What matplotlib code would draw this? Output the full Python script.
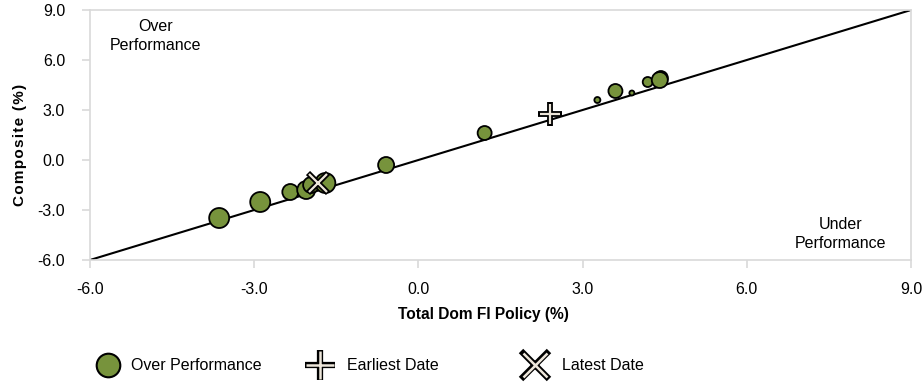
import matplotlib
matplotlib.use("Agg")
import matplotlib.pyplot as plt
from matplotlib.lines import Line2D
from matplotlib.legend_handler import HandlerTuple

plt.rcParams['font.family'] = ['Liberation Sans', 'DejaVu Sans']

# Data
x_vals = [-3.64, -2.89, -2.34, -2.05, -1.96, -1.70, -0.59, 1.21, 3.27, 3.60, 3.90, 4.19, 4.43, 4.41]
y_vals = [-3.48, -2.52, -1.92, -1.80, -1.50, -1.38, -0.30, 1.62, 3.60, 4.14, 4.02, 4.68, 4.92, 4.80]
sizes_px = [10, 10, 8, 9, 8, 10, 8, 7, 3, 7, 2.5, 5, 7, 8]   # marker radius
earliest = (2.40, 2.76)
latest = (-1.83, -1.38)
ticks = [-6.0, -3.0, 0.0, 3.0, 6.0, 9.0]
tick_labels = ["-6.0", "-3.0", "0.0", "3.0", "6.0", "9.0"]
legend_labels = ["Over Performance", "Earliest Date", "Latest Date"]

green = "#77933C"
light = "#EDE6DA"
FS = 11.5
W, H = 923, 384
fig = plt.figure(figsize=(W / 100, H / 100), dpi=100)
ax = fig.add_axes([90 / W, 1 - 260 / H, (911 - 90) / W, 250 / H])

ax.plot([-6, 9], [-6, 9], color="black", lw=1.5, zorder=1)

s = [(2 * r * 0.72) ** 2 for r in sizes_px]
ax.scatter(x_vals, y_vals, s=s, c=green, edgecolors="black", linewidths=1.3, zorder=3)


def outlined(x, y, marker, size, zorder=4):
    ax.plot(x, y, marker=marker, markersize=size, markeredgecolor="black",
            markeredgewidth=4.2, linestyle="none", zorder=zorder)
    ax.plot(x, y, marker=marker, markersize=size - 2.2, markeredgecolor=light,
            markeredgewidth=1.6, linestyle="none", zorder=zorder + 0.1)


outlined(*earliest, "+", 17)
outlined(*latest, "x", 15)

ax.set_xlim(-6, 9)
ax.set_ylim(-6, 9)
ax.set_xticks(ticks)
ax.set_xticklabels(tick_labels)
ax.set_yticks(ticks)
ax.set_yticklabels(tick_labels)
for sp in ax.spines.values():
    sp.set_color("#D9D9D9")
    sp.set_linewidth(1.2)
ax.tick_params(axis="both", colors="#D9D9D9", labelcolor="black", labelsize=FS,
               length=6, width=1.2, direction="out")
ax.tick_params(axis="x", pad=10)
ax.tick_params(axis="y", pad=12)

ax.set_xlabel("Total Dom FI Policy (%)", fontsize=11.2, fontweight="bold")
ax.xaxis.set_label_coords(0.479, -(315 - 260) / 250, transform=ax.transAxes)
ax.xaxis.label.set_va("center")
hs = "\u200a"
ax.set_ylabel(hs.join("Composite (%)"), fontsize=11, fontweight="bold")
ax.yaxis.set_label_coords(-0.077, (260 - 145) / 250, transform=ax.transAxes)

ax.text(-4.81, 8.45, "Over\nPerformance", ha="center", va="top", fontsize=FS, linespacing=1.3)
ax.text(7.72, -3.42, "Under\nPerformance", ha="center", va="top", fontsize=FS, linespacing=1.3)

h_circle = Line2D([], [], marker="o", markersize=17, markerfacecolor=green, markeredgecolor="black",
                  markeredgewidth=1.5, linestyle="none")
h_plus = (Line2D([], [], marker="+", markersize=22, markeredgecolor="black", markeredgewidth=4.5, linestyle="none"),
          Line2D([], [], marker="+", markersize=19.5, markeredgecolor=light, markeredgewidth=1.8, linestyle="none"))
h_x = (Line2D([], [], marker="x", markersize=20, markeredgecolor="black", markeredgewidth=4.5, linestyle="none"),
       Line2D([], [], marker="x", markersize=17.5, markeredgecolor=light, markeredgewidth=1.8, linestyle="none"))

hl = 1.6
hl_px = hl * FS * 100 / 72
for handle, label, cx, tx in zip([h_circle, h_plus, h_x], legend_labels,
                                 [108, 320, 535], [131, 347, 562]):
    left = cx - hl_px / 2
    pad = (tx - (left + hl_px)) / (FS * 100 / 72)
    fig.legend([handle], [label], loc="center left", bbox_to_anchor=(left / W, 1 - 366 / H),
               frameon=False, fontsize=FS, borderpad=0, borderaxespad=0,
               handletextpad=pad, handlelength=hl,
               handler_map={tuple: HandlerTuple(ndivide=1, pad=0)})

fig.savefig("out.png", dpi=100)
